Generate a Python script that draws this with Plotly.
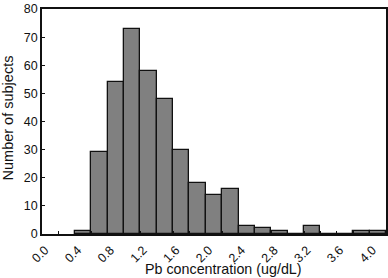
import plotly.graph_objects as go

bin_starts = [0.4, 0.6, 0.8, 1.0, 1.2, 1.4, 1.6, 1.8, 2.0, 2.2, 2.4, 2.6, 2.8, 3.0, 3.2, 3.4, 3.6, 3.8, 4.0]
counts = [1, 29, 54, 73, 58, 48, 30, 18, 14, 16, 3, 2, 1, 0, 3, 0, 0, 1, 1]
bin_width = 0.2
x_tick_vals = [0.0, 0.2, 0.4, 0.6, 0.8, 1.0, 1.2, 1.4, 1.6, 1.8, 2.0, 2.2, 2.4, 2.6, 2.8, 3.0, 3.2, 3.4, 3.6, 3.8, 4.0]
x_tick_text = ["0.0", "", "0.4", "", "0.8", "", "1.2", "", "1.6", "", "2.0", "", "2.4", "", "2.8", "", "3.2", "", "3.6", "", "4.0"]
y_tick_vals = [0, 10, 20, 30, 40, 50, 60, 70, 80]
x_title = "Pb concentration (ug/dL)"
y_title = "Number of subjects"

centers = [s + bin_width / 2 for s in bin_starts]

fig = go.Figure(go.Bar(
    x=centers, y=counts, width=bin_width,
    marker=dict(color="#808080", line=dict(color="#111111", width=1.3)),
))

font_family = "Liberation Sans, Arial, sans-serif"
fig.update_layout(
    width=388, height=278,
    margin=dict(l=42, r=2, t=9, b=44, autoexpand=False),
    plot_bgcolor="white", paper_bgcolor="white",
    showlegend=False,
    font=dict(family=font_family, color="#111111", size=12),
    bargap=0,
    annotations=[
        dict(text=x_title, xref="paper", yref="paper", x=0.5276, y=-0.1556,
             xanchor="center", yanchor="middle", showarrow=False,
             font=dict(size=14.3, family=font_family, color="#111111")),
        dict(text=y_title, xref="paper", yref="paper", x=-0.1003, y=0.5156,
             xanchor="center", yanchor="middle", showarrow=False, textangle=-90,
             font=dict(size=14.5, family=font_family, color="#111111")),
    ],
)
fig.update_xaxes(
    range=[0, 4.2], tickvals=x_tick_vals, ticktext=x_tick_text, tickangle=-45,
    ticks="inside", ticklen=3, tickcolor="#111111", tickwidth=1,
    ticklabelshift=3, ticklabelstandoff=2,
    showline=True, linecolor="#111111", linewidth=1.6, mirror=True,
    showgrid=False, zeroline=False, automargin=False,
    tickfont=dict(size=12.5),
)
fig.update_yaxes(
    range=[0, 80], tickvals=y_tick_vals,
    ticks="inside", ticklen=3, tickcolor="#111111", tickwidth=1,
    showline=True, linecolor="#111111", linewidth=1.6, mirror=True,
    showgrid=False, zeroline=False, automargin=False,
    tickfont=dict(size=12.5),
)

fig.write_html("out.html", config={"displayModeBar": False},
               post_script="document.body.style.margin='0';")
